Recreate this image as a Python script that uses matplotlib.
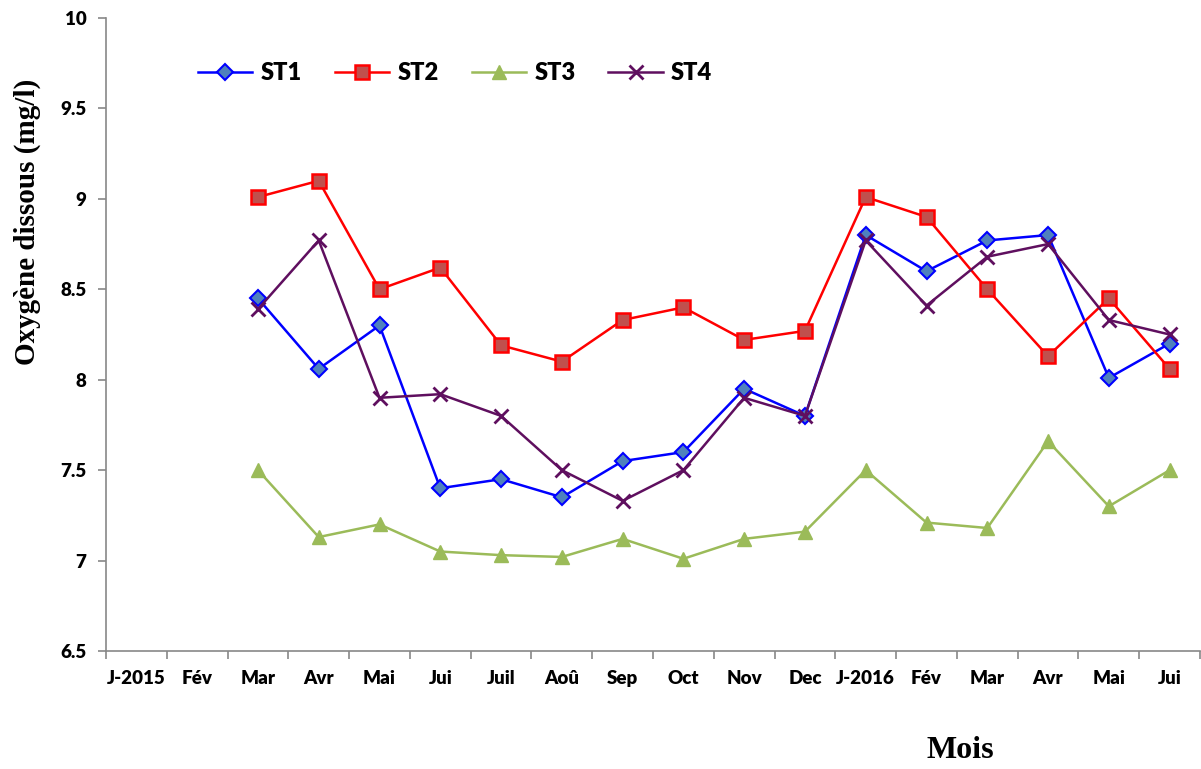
import matplotlib
matplotlib.use("Agg")
import matplotlib.pyplot as plt
import numpy as np

months = ["J-2015", "Fév", "Mar", "Avr", "Mai", "Jui", "Juil", "Aoû", "Sep", "Oct",
          "Nov", "Dec", "J-2016", "Fév", "Mar", "Avr", "Mai", "Jui"]

# values start at "Mar" (index 2)
st1 = [8.45, 8.06, 8.30, 7.40, 7.45, 7.35, 7.55, 7.60, 7.95, 7.80, 8.80, 8.60, 8.77, 8.80, 8.01, 8.20]
st2 = [9.01, 9.10, 8.50, 8.62, 8.19, 8.10, 8.33, 8.40, 8.22, 8.27, 9.01, 8.90, 8.50, 8.13, 8.45, 8.06]
st3 = [7.50, 7.13, 7.20, 7.05, 7.03, 7.02, 7.12, 7.01, 7.12, 7.16, 7.50, 7.21, 7.18, 7.66, 7.30, 7.50]
st4 = [8.39, 8.77, 7.90, 7.92, 7.80, 7.50, 7.33, 7.50, 7.90, 7.80, 8.77, 8.41, 8.68, 8.75, 8.33, 8.25]

tick_font = "Lato"
fig = plt.figure(figsize=(12.01, 7.69), dpi=100)
ax = fig.add_axes([106 / 1201, 1 - 651 / 769, 1094 / 1201, 633 / 769])

x = np.arange(2, 2 + len(st1))
ax.plot(x, st1, color="#0000FF", lw=1.8, marker="D", ms=8.5, mfc="#4F81BD", mec="#0000FF", mew=1.5, label="ST1")
ax.plot(x, st2, color="#FF0000", lw=1.8, marker="s", ms=10, mfc="#C0504D", mec="#FF0000", mew=1.8, label="ST2")
ax.plot(x, st3, color="#9BBB59", lw=1.8, marker="^", ms=10, mfc="#9BBB59", mec="#9BBB59", label="ST3")
ax.plot(x, st4, color="#5F0F5F", lw=1.8, marker="x", ms=10, mew=2, label="ST4")

ax.set_xlim(-0.5, len(months) - 0.5)
ax.set_ylim(6.5, 10)
ax.set_yticks([6.5, 7, 7.5, 8, 8.5, 9, 9.5, 10])
ax.set_yticklabels(["6.5", "7", "7.5", "8", "8.5", "9", "9.5", "10"])
ax.set_xticks(np.arange(len(months)))
ax.set_xticklabels(months)
ax.set_xticks(np.arange(len(months) + 1) - 0.5, minor=True)
ax.tick_params(axis="x", which="major", length=0, pad=14)
ax.tick_params(axis="x", which="minor", length=6, color="#888888", width=1.2)
ax.tick_params(axis="y", length=6, color="#888888", width=1.2, pad=8)
for lab in ax.get_xticklabels() + ax.get_yticklabels():
    lab.set_fontfamily(tick_font)
    lab.set_fontweight("heavy")
    lab.set_fontsize(13.5)

for s in ["top", "right"]:
    ax.spines[s].set_visible(False)
for s in ["left", "bottom"]:
    ax.spines[s].set_color("#888888")
    ax.spines[s].set_linewidth(1.2)

fig.text(27 / 1201, 1 - 222 / 769, "Oxygène dissous (mg/l)", rotation=90, ha="center", va="center",
         fontfamily="Liberation Serif", fontweight="bold", fontsize=21)
fig.text(960 / 1201, 1 - 750 / 769, "Mois", ha="center", va="center",
         fontfamily="Liberation Serif", fontweight="bold", fontsize=23)

ax.legend(loc="upper left", bbox_to_anchor=(0.069, 0.956), ncol=4, frameon=False,
          prop={"family": tick_font, "weight": "heavy", "size": 17},
          handlelength=2.3, columnspacing=1.4, handletextpad=0.35, borderpad=0.2)

fig.savefig("out.png", dpi=100)
